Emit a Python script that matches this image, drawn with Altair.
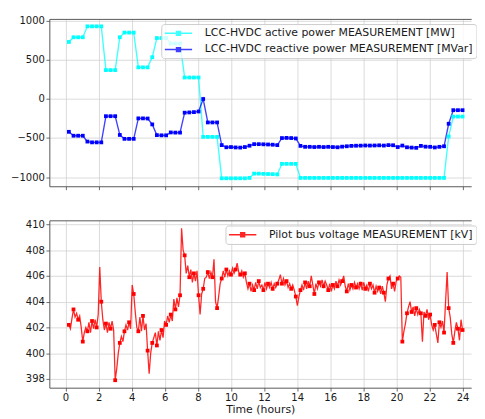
import altair as alt
import pandas as pd

FONT = "DejaVu Sans"
NAME_P = "LCC-HVDC active power MEASUREMENT [MW]"
NAME_Q = "LCC-HVDC reactive power MEASUREMENT [MVar]"
NAME_V = "Pilot bus voltage MEASUREMENT [kV]"

# sample times (hours) of the power measurements
T_POWER = [round(0.2 + 0.28 * i, 2) for i in range(86)]

ACTIVE = [730,
          790, 790, 790,
          930, 930, 930, 930,
          370, 370, 370,
          790,
          850, 850, 850,
          405, 405, 405,
          535,
          780, 780, 780,
          710, 710, 710,
          275, 275, 275, 275,
          -485, -485, -485, -485,
          -1015, -1015, -1015, -1015, -1015, -1015,
          -1010,
          -955, -955, -958, -960, -962, -965,
          -830, -830, -830, -830,
          -1010, -1010, -1010, -1010, -1010, -1010, -1010, -1010,
          -1010, -1010, -1010, -1010, -1010, -1010, -1010, -1010,
          -1010, -1010, -1010, -1010, -1010, -1010, -1010, -1010,
          -1010, -1010, -1010, -1010, -1010, -1010, -1010, -1010,
          -480,
          -225, -225, -225]

REACTIVE = [-420,
            -470, -470, -470,
            -545, -555, -555, -555,
            -220, -220, -220,
            -460,
            -510, -510, -510,
            -248, -248, -250,
            -325,
            -462, -465, -465,
            -428, -430, -430,
            -175, -172, -168, -160,
            0,
            -300, -300, -300,
            -590,
            -618, -615, -620, -622, -615,
            -598,
            -578, -578, -580, -582, -585, -590,
            -500, -498, -500, -505,
            -600, -612, -612, -615, -612, -615, -612, -615, -618, -610,
            -605, -600, -598, -597, -595, -596, -595, -593, -596, -590, -592,
            -615, -596, -618, -622, -625, -600, -610, -612, -620, -612, -605,
            -317,
            -143, -143, -143]

# voltage samples every 0.28/3 h starting at 0.2 h
T_VOLT = [round(0.2 + i * 0.28 / 3, 4) for i in range(256)]
VOLT = [
    402.2, 401.9, 402.7, 403.4, 402.8, 403.1, 402.6, 402.9, 402.0,
    400.9, 401.6, 402.0, 401.7, 402.4, 401.6, 402.5, 401.9, 402.6,
    402.0, 403.0, 406.7, 404.0, 402.6, 401.8, 402.3, 401.6, 402.4,
    401.9, 402.5, 401.8, 397.9, 398.8, 400.0, 400.8, 401.3, 400.9,
    401.7, 402.2, 401.8, 402.4, 401.9, 405.3, 404.6, 403.2, 402.0,
    401.7, 402.8, 401.7, 402.9, 401.8, 402.3, 400.2, 398.4, 400.0,
    400.8, 401.2, 401.6, 400.6, 401.7, 401.0, 401.8, 401.2, 402.5,
    402.2, 402.9, 402.4, 403.0, 402.5, 404.2, 403.4, 404.3, 403.6,
    404.5, 409.7, 408.0, 407.6, 406.2, 406.8, 405.9, 406.5, 405.5,
    406.2, 405.6, 406.4, 404.5, 403.0, 404.6, 405.0, 405.8, 405.9,
    406.3, 405.8, 406.3, 405.9, 407.3, 404.0, 403.5, 404.4, 405.4,
    405.8, 406.4, 405.9, 406.5, 406.0, 406.4, 406.1, 406.6, 406.2,
    406.5, 407.0, 406.3, 406.1, 406.4, 405.9, 406.2, 405.5, 405.0,
    405.4, 404.8, 405.3, 404.9, 405.5, 405.0, 405.6, 405.1, 405.3,
    404.9, 405.5, 405.0, 405.4, 405.1, 405.5, 405.0, 405.4, 405.1,
    405.4, 405.7, 406.1, 405.4, 405.8, 405.3, 405.6, 405.1, 405.4,
    405.0, 405.3, 404.9, 404.4, 403.7, 404.4, 404.9, 405.3, 404.9,
    405.5, 405.0, 405.6, 405.2, 406.0, 405.3, 404.6, 405.4, 405.0,
    405.5, 405.2, 405.7, 405.2, 405.6, 405.3, 404.9, 405.4, 404.8,
    405.3, 405.0, 405.6, 405.2, 405.7, 405.3, 405.6, 406.0, 405.2,
    404.8, 405.4, 404.9, 405.3, 405.0, 405.5, 405.1, 405.4, 405.0,
    405.4, 404.9, 405.5, 405.0, 405.3, 404.8, 405.4, 405.0, 405.3,
    404.7, 405.2, 404.8, 405.1, 404.6, 405.2, 404.7, 404.0, 405.3,
    405.8, 406.0, 405.0, 405.4, 404.8, 405.6, 405.8, 406.0, 405.9,
    400.9, 401.7, 402.3, 403.1, 403.6, 404.0, 403.2, 403.6, 402.9,
    403.5, 403.0, 403.4, 403.1, 400.9, 403.2, 402.9, 403.4, 402.6,
    403.0, 402.2, 401.8, 402.2, 401.5, 400.8, 402.4, 402.0, 402.5,
    401.6, 404.0, 406.3, 403.5, 402.8, 401.5, 400.8, 401.7, 402.4,
    401.9, 401.0, 402.6, 401.8]

X_TICKS = list(range(0, 25, 2))
X_DOMAIN = [-0.98, 24.52]
W = 433.5
H = 172

# legend glyph: a line with a small square marker in its middle
SYM = "M-2.8,0H2.8M-0.4,-0.4H0.4V0.4H-0.4Z"


def legend(x, y):
    return alt.Legend(title=None, orient="none", legendX=x, legendY=y,
                      symbolType=SYM, symbolSize=100, symbolStrokeWidth=1.5,
                      symbolOffset=8.2,
                      labelFont=FONT, labelFontSize=11.2, labelColor="#1a1a1a",
                      labelLimit=500, labelOffset=21, padding=3.5, rowPadding=4.7,
                      fillColor="rgba(255,255,255,0.8)", strokeColor="#cccccc",
                      cornerRadius=3)


xscale = alt.Scale(domain=X_DOMAIN, nice=False, zero=False)
border_axis = alt.Axis(orient="top", labels=False, ticks=False, grid=False,
                       domain=True, title=None)

# ---- top panel ----
pdf = pd.DataFrame({"t": T_POWER * 2, "v": ACTIVE + REACTIVE,
                    "series": [NAME_P] * len(ACTIVE) + [NAME_Q] * len(REACTIVE)})
pscale = alt.Scale(domain=[NAME_P, NAME_Q], range=["#00ffff", "#0000ff"])
p_yscale = alt.Scale(domain=[-1117, 1025], nice=False, zero=False)
p_yaxis = alt.Axis(values=[-1000, -500, 0, 500, 1000], title=None, format="d")

p_line = alt.Chart(pdf).mark_line(strokeWidth=1.4, opacity=0.75).encode(
    x=alt.X("t:Q", scale=xscale,
            axis=alt.Axis(values=X_TICKS, labels=False, title=None, orient="bottom")),
    y=alt.Y("v:Q", scale=p_yscale, axis=p_yaxis),
    color=alt.Color("series:N", scale=pscale, legend=legend(115, 5.3)),
)
p_pts = alt.Chart(pdf).mark_square(size=15, opacity=1).encode(
    x=alt.X("t:Q", scale=xscale, axis=border_axis),
    y=alt.Y("v:Q", scale=p_yscale, axis=p_yaxis),
    fill=alt.Fill("series:N", scale=pscale, legend=legend(115, 5.3)),
)
top = alt.layer(p_line, p_pts).resolve_axis(x="independent").properties(width=W, height=H)

# ---- bottom panel ----
vdf = pd.DataFrame({"t": T_VOLT, "v": VOLT, "name": NAME_V})
vscale = alt.Scale(domain=[NAME_V], range=["#ff0000"])
v_yscale = alt.Scale(domain=[397.32, 410.32], nice=False, zero=False)
v_yaxis = alt.Axis(values=list(range(398, 411, 2)), title=None, format="d")

v_line = alt.Chart(vdf).mark_line(strokeWidth=1.3, opacity=0.85).encode(
    x=alt.X("t:Q", scale=xscale,
            axis=alt.Axis(values=X_TICKS, title="Time (hours)", orient="bottom")),
    y=alt.Y("v:Q", scale=v_yscale, axis=v_yaxis),
    color=alt.Color("name:N", scale=vscale, legend=legend(181, 5.3)),
)
v_pts = alt.Chart(vdf.iloc[::3]).mark_square(size=15, opacity=1).encode(
    x=alt.X("t:Q", scale=xscale, axis=border_axis),
    y=alt.Y("v:Q", scale=v_yscale, axis=v_yaxis),
    fill=alt.Fill("name:N", scale=vscale, legend=legend(181, 5.3)),
)
bottom = alt.layer(v_line, v_pts).resolve_axis(x="independent").properties(width=W, height=H)

chart = alt.vconcat(top, bottom, spacing=30).resolve_scale(
    color="independent", fill="independent", x="independent", y="independent"
).resolve_legend(
    color="independent", fill="independent"
).properties(
    padding={"left": 2.5, "top": 2.5, "right": 0, "bottom": 0}
).configure_view(stroke=None).configure_axis(
    labelFont=FONT, labelFontSize=10.3, labelColor="#1a1a1a", labelPadding=1.5,
    tickColor="#444", tickSize=3.5, tickWidth=0.8,
    domainColor="#555", domainWidth=1,
    gridColor="#d0d0d0", gridWidth=0.8,
    titleFont=FONT, titleFontSize=11.2, titleFontWeight="normal", titleColor="#1a1a1a",
    titlePadding=1,
)

chart.save("out.html", embed_options={"renderer": "svg", "actions": False})
